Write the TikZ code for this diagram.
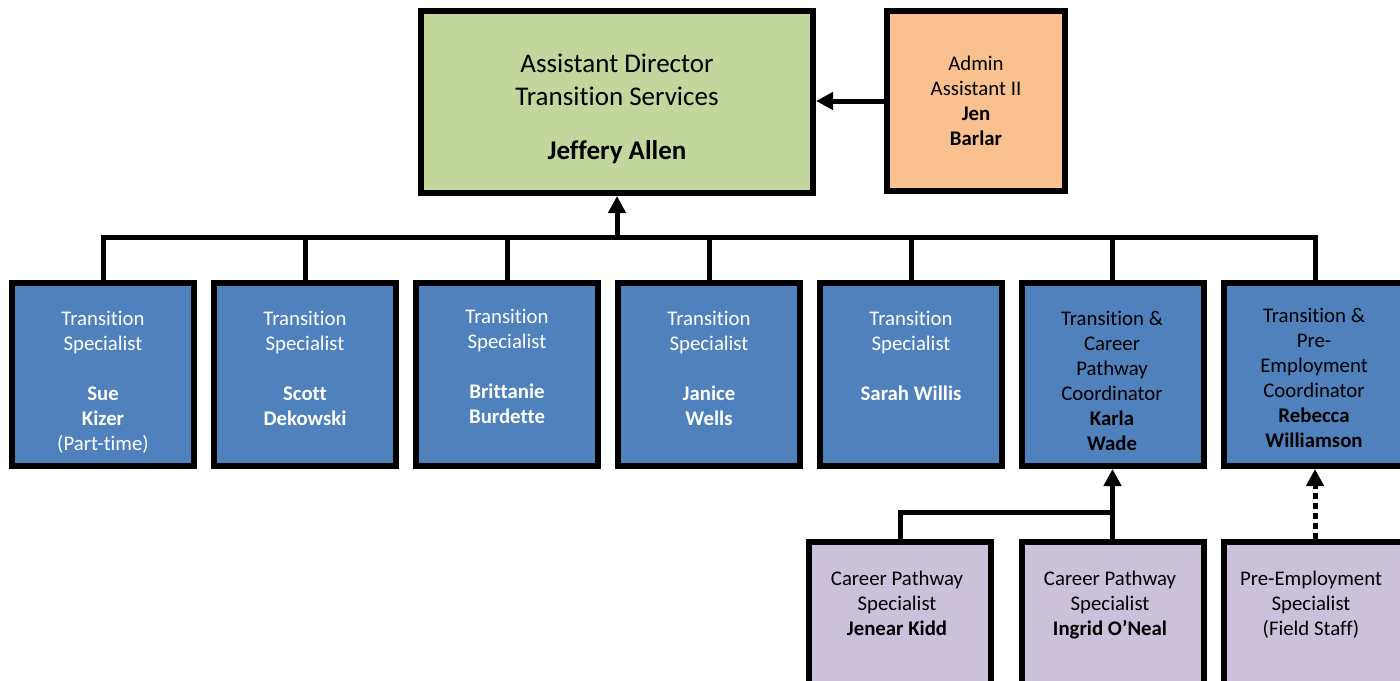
\documentclass[tikz,border=0pt]{standalone}
\usepackage{fontspec}
\setmainfont[Ligatures=NoCommon]{Carlito}
\usetikzlibrary{arrows.meta}

\definecolor{dirgreen}{HTML}{C3D69B}
\definecolor{admorange}{HTML}{FAC090}
\definecolor{staffblue}{HTML}{4F81BD}
\definecolor{fieldpurple}{HTML}{CCC1DA}

\tikzset{
    box/.style={draw=black, line width=3pt, inner sep=0pt},
    bluebox/.style={box, fill=staffblue, minimum width=91pt, minimum height=91.5pt},
    purplebox/.style={box, fill=fieldpurple, minimum width=91pt, minimum height=91.5pt},
    txt/.style={font=\fontsize{10.4}{12.5}\selectfont, align=center, anchor=north, inner sep=0pt},
    bigtxt/.style={font=\fontsize{13.5}{16.5}\selectfont, align=center, anchor=north, inner sep=0pt},
    conn/.style={line width=2.5pt},
    arr/.style={conn, -{Triangle[length=8.5pt,width=8.5pt]}}
}

\begin{document}
\begin{tikzpicture}[x=0.5pt, y=-0.5pt]
    \useasboundingbox (0,0) rectangle (1400,680);

    % top
    \node[box, fill=dirgreen, minimum width=196pt, minimum height=91pt] (dir) at (617,102) {};
    \node[bigtxt] (dir-t) at (617,54) {Assistant Director\\Transition Services\\[10.5pt]\textbf{Jeffery Allen}};

    \node[box, fill=admorange, minimum width=89pt, minimum height=90pt] (adm) at (976,101) {};
    \node[txt] (adm-t) at (976,56) {Admin\\Assistant II\\\textbf{Jen}\\\textbf{Barlar}};

    % middle row
    \node[bluebox] (ts1) at (103,374.5) {};
    \node[bluebox] (ts2) at (305,374.5) {};
    \node[bluebox] (ts3) at (507,374.5) {};
    \node[bluebox] (ts4) at (709,374.5) {};
    \node[bluebox] (ts5) at (911,374.5) {};
    \node[bluebox] (tc6) at (1112.5,374.5) {};
    \node[bluebox] (tp7) at (1315,374.5) {};

    \node[txt, text=white] (ts1-t) at (103,311) {Transition\\Specialist\\[12.5pt]\textbf{Sue}\\\textbf{Kizer}\\(Part-time)};
    \node[txt, text=white] (ts2-t) at (305,311) {Transition\\Specialist\\[12.5pt]\textbf{Scott}\\\textbf{Dekowski}};
    \node[txt, text=white] (ts3-t) at (507,309) {Transition\\Specialist\\[12.5pt]\textbf{Brittanie}\\\textbf{Burdette}};
    \node[txt, text=white] (ts4-t) at (709,311) {Transition\\Specialist\\[12.5pt]\textbf{Janice}\\\textbf{Wells}};
    \node[txt, text=white] (ts5-t) at (911,311) {Transition\\Specialist\\[12.5pt]\textbf{Sarah Willis}};
    \node[txt] (tc6-t) at (1112,311) {Transition \&\\Career\\Pathway\\Coordinator\\\textbf{Karla}\\\textbf{Wade}};
    \node[txt] (tp7-t) at (1314,308) {Transition \&\\Pre-\\Employment\\Coordinator\\\textbf{Rebecca}\\\textbf{Williamson}};

    % bottom row
    \node[purplebox] (cps1) at (900,633.5) {};
    \node[purplebox] (cps2) at (1112.5,633.5) {};
    \node[purplebox] (pes3) at (1315,633.5) {};

    \node[txt] (cps1-t) at (897,571) {Career Pathway\\Specialist\\\textbf{Jenear Kidd}};
    \node[txt] (cps2-t) at (1110,571) {Career Pathway\\Specialist\\\textbf{Ingrid O’Neal}};
    \node[txt] (pes3-t) at (1311,571) {Pre-Employment\\Specialist\\(Field Staff)};

    % lines
    \coordinate (bus) at (617,237);
    \coordinate (jn) at (1112.5,512);

    \draw[arr] (adm.west) -- (adm.west -| dir.east);
    \draw[arr] (bus) -- (dir.south);

    \draw[conn] (ts1.north) |- (bus) -| (tp7.north);
    \draw[conn] (ts2.north) -- (ts2.north |- bus);
    \draw[conn] (ts3.north) -- (ts3.north |- bus);
    \draw[conn] (ts4.north) -- (ts4.north |- bus);
    \draw[conn] (ts5.north) -- (ts5.north |- bus);
    \draw[conn] (tc6.north) -- (tc6.north |- bus);

    \draw[arr] (cps2.north) -- (tc6.south);
    \draw[conn] (cps1.north) |- (jn);
    \draw[arr, dash pattern=on 3pt off 2pt] (pes3.north) -- (tp7.south);
\end{tikzpicture}
\end{document}
